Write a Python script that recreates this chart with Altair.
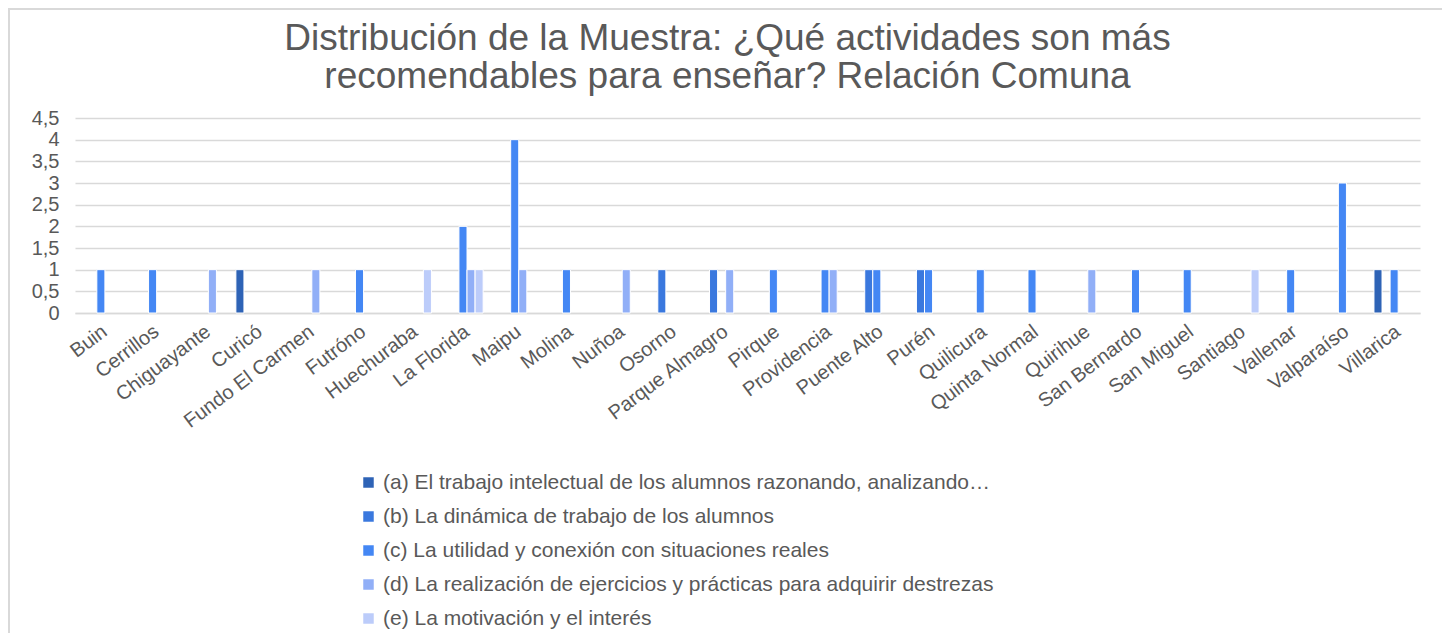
import altair as alt
import pandas as pd

comunas = ["Buin", "Cerrillos", "Chiguayante", "Curicó", "Fundo El Carmen", "Futróno",
           "Huechuraba", "La Florida", "Maipu", "Molina", "Nuñoa", "Osorno",
           "Parque Almagro", "Pirque", "Providencia", "Puente Alto", "Purén", "Quilicura",
           "Quinta Normal", "Quirihue", "San Bernardo", "San Miguel", "Santiago",
           "Vallenar", "Valparaíso", "Villarica"]

series = [
    "(a) El trabajo intelectual de los alumnos razonando, analizando…",
    "(b) La dinámica de trabajo de los alumnos",
    "(c) La utilidad y conexión con situaciones reales",
    "(d) La realización de ejercicios y prácticas para adquirir destrezas",
    "(e) La motivación y el interés",
]

serie_a = [0, 0, 0, 1, 0, 0, 0, 0, 0, 0, 0, 0, 0, 0, 0, 0, 0, 0, 0, 0, 0, 0, 0, 0, 0, 1]
serie_b = [0, 0, 0, 0, 0, 0, 0, 0, 0, 0, 0, 1, 1, 0, 0, 1, 1, 0, 0, 0, 0, 0, 0, 0, 0, 0]
serie_c = [1, 1, 0, 0, 0, 1, 0, 2, 4, 1, 0, 0, 0, 1, 1, 1, 1, 1, 1, 0, 1, 1, 0, 1, 3, 1]
serie_d = [0, 0, 1, 0, 1, 0, 0, 1, 1, 0, 1, 0, 1, 0, 1, 0, 0, 0, 0, 1, 0, 0, 0, 0, 0, 0]
serie_e = [0, 0, 0, 0, 0, 0, 1, 1, 0, 0, 0, 0, 0, 0, 0, 0, 0, 0, 0, 0, 0, 0, 1, 0, 0, 0]

colors = ["#2E63B6", "#3A78DE", "#4487F4", "#91AFF7", "#BCCCFA"]
y_ticks = [0, 0.5, 1, 1.5, 2, 2.5, 3, 3.5, 4, 4.5]

rows = []
for s, vals in zip(series, [serie_a, serie_b, serie_c, serie_d, serie_e]):
    for c, v in zip(comunas, vals):
        rows.append({"comuna": c, "serie": s, "valor": v})
df = pd.DataFrame(rows)

FONT = "Liberation Sans"
GRAY = "#595959"

bars = alt.Chart(df).transform_filter("datum.valor > 0").mark_bar(
    stroke="white", strokeWidth=1
).encode(
    x=alt.X("comuna:N", sort=comunas, title=None,
            scale=alt.Scale(domain=comunas, paddingInner=0.22, paddingOuter=0.11),
            axis=alt.Axis(labelAngle=-37, labelFontSize=20, labelColor=GRAY, labelFont=FONT,
                          domainColor="#D9D9D9", domainWidth=1.5, ticks=False, grid=False,
                          labelPadding=8, labelOffset=-2)),
    xOffset=alt.XOffset("serie:N", sort=series, scale=alt.Scale(domain=series)),
    y=alt.Y("valor:Q", title=None,
            scale=alt.Scale(domain=[0, 4.5], nice=False),
            axis=alt.Axis(values=y_ticks,
                          labelExpr="replace(format(datum.value, ''), '.', ',')",
                          labelFontSize=20, labelColor=GRAY, labelFont=FONT,
                          domain=False, ticks=False, gridColor="#D9D9D9", gridWidth=1.5,
                          labelPadding=16)),
    color=alt.Color("serie:N", sort=series,
                    scale=alt.Scale(domain=series, range=colors),
                    legend=alt.Legend(title=None, orient="none", legendX=283, legendY=354,
                                      direction="vertical", columns=1, symbolType="square",
                                      symbolSize=110, symbolStrokeWidth=0, labelFontSize=21,
                                      labelColor=GRAY, labelFont=FONT, labelLimit=900,
                                      rowPadding=12, labelOffset=4)),
)

frame = alt.Chart(pd.DataFrame({"k": [0]})).mark_rect(
    fill=None, stroke="#D9D9D9", strokeWidth=2, clip=False
).encode(x=alt.value(-66), x2=alt.value(1370), y=alt.value(-109), y2=alt.value(540))

chart = alt.layer(frame, bars).properties(
    width=1345, height=195,
    autosize=alt.AutoSizeParams(type="none"),
    padding={"left": 67, "top": 110, "right": 22, "bottom": 320},
    title=alt.TitleParams(
        ["Distribución de la Muestra: ¿Qué actividades son más",
         "recomendables para enseñar? Relación Comuna"],
        fontSize=37, font=FONT, color=GRAY, fontWeight="normal", anchor="middle",
        frame="group", dx=-20, offset=-88, lineHeight=38),
).configure_view(stroke=None)

chart.save("out.html", embed_options={"renderer": "svg", "actions": False})
